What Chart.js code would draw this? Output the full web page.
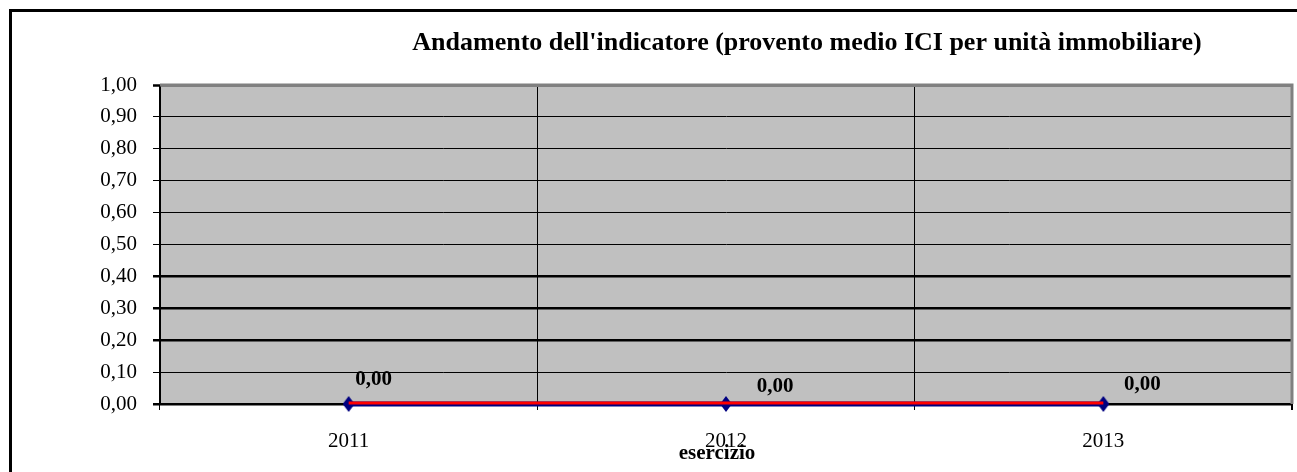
<!DOCTYPE html>
<html>
<head>
<meta charset="utf-8">
<title>Andamento dell'indicatore</title>
<script src="https://cdn.jsdelivr.net/npm/chart.js@4.4.1/dist/chart.umd.min.js"></script>
<style>
  html, body { margin: 0; padding: 0; background: #ffffff; overflow: hidden; }
  canvas { display: block; }
</style>
</head>
<body>
<canvas id="chart" width="1297" height="472"></canvas>
<script>
// Data
const esercizi = ['2011', '2012', '2013'];
const proventoMedio = [0.00, 0.00, 0.00];
const yMin = 0;
const yMax = 1;
const yStep = 0.1;

const titleText = "Andamento dell'indicatore (provento medio ICI per unità immobiliare)";
const xAxisTitle = 'esercizio';

const SERIF = "'Liberation Serif', 'Times New Roman', Times, serif";
const fmt = v => v.toFixed(2).replace('.', ',');

// Gridlines drawn heavier than the rest (in tenths)
const heavyLines = [0, 2, 3, 4];
const tenth = c => Math.round(c.tick.value * 10);

// Navy diamond marker, slightly taller than wide
function diamond(w, h, color) {
  const c = document.createElement('canvas');
  c.width = w; c.height = h;
  const g = c.getContext('2d');
  g.fillStyle = color;
  g.beginPath();
  g.moveTo(w / 2, 0);
  g.lineTo(w, h / 2);
  g.lineTo(w / 2, h);
  g.lineTo(0, h / 2);
  g.closePath();
  g.fill();
  return c;
}
const marker = diamond(12, 16, '#000080');

const decorations = {
  id: 'decorations',
  beforeDraw(chart) {
    const { ctx, chartArea: a } = chart;
    ctx.save();
    ctx.fillStyle = '#ffffff';
    ctx.fillRect(0, 0, chart.width, chart.height);
    // outer frame
    ctx.strokeStyle = '#000000';
    ctx.lineWidth = 3;
    ctx.strokeRect(10.5, 10.5, 1400, 600);
    // plot background
    ctx.fillStyle = '#c0c0c0';
    ctx.fillRect(a.left, a.top, a.right - a.left, a.bottom - a.top);
    ctx.restore();
  },
  beforeDatasetsDraw(chart) {
    const { ctx, chartArea: a } = chart;
    ctx.save();
    ctx.strokeStyle = '#808080';
    ctx.lineWidth = 3;
    ctx.beginPath();
    ctx.moveTo(a.left, a.top);
    ctx.lineTo(a.right, a.top);
    ctx.lineTo(a.right, a.bottom);
    ctx.stroke();
    // small tick below the right edge of the plot
    ctx.strokeStyle = '#000000';
    ctx.lineWidth = 2;
    ctx.beginPath();
    ctx.moveTo(a.right, a.bottom);
    ctx.lineTo(a.right, a.bottom + 6);
    ctx.stroke();
    ctx.restore();
  },
  beforeDatasetDraw(chart, args) {
    if (args.index === 0) {
      chart.ctx.save();
      chart.ctx.translate(0, -1);
    }
  },
  afterDatasetDraw(chart, args) {
    if (args.index === 0) chart.ctx.restore();
  },
  afterDatasetsDraw(chart, args, opts) {
    const { ctx } = chart;
    const meta = chart.getDatasetMeta(1);
    ctx.save();
    ctx.fillStyle = '#000000';
    ctx.font = 'bold 21px ' + SERIF;
    ctx.textAlign = 'center';
    ctx.textBaseline = 'middle';
    meta.data.forEach((pt, i) => {
      const off = opts.labelOffsets[i] || { dx: 35, dy: -20 };
      ctx.fillText(fmt(chart.data.datasets[1].data[i]), pt.x + off.dx, pt.y + off.dy);
    });
    // chart title
    ctx.font = 'bold 26px ' + SERIF;
    ctx.textBaseline = 'alphabetic';
    ctx.fillText(titleText, 807, 50);
    // category axis title
    ctx.font = 'bold 21px ' + SERIF;
    ctx.fillText(xAxisTitle, 717, 459);
    ctx.restore();
  }
};

new Chart(document.getElementById('chart'), {
  type: 'line',
  data: {
    labels: esercizi,
    datasets: [
      {
        label: 'provento medio (linea)',
        data: proventoMedio,
        borderColor: '#ff0000',
        borderWidth: 3,
        pointRadius: 0,
        fill: false,
        tension: 0,
        clip: false
      },
      {
        label: 'provento medio',
        data: proventoMedio,
        borderColor: '#000080',
        borderWidth: 5,
        pointStyle: marker,
        pointRadius: 8,
        fill: false,
        tension: 0,
        clip: false
      }
    ]
  },
  options: {
    responsive: false,
    devicePixelRatio: 1,
    animation: false,
    events: [],
    layout: { autoPadding: false, padding: { left: 0, top: 85, right: 5, bottom: 0 } },
    plugins: {
      legend: { display: false },
      title: { display: false },
      tooltip: { enabled: false },
      decorations: {
        labelOffsets: [ { dx: 25, dy: -24 }, { dx: 49, dy: -17 }, { dx: 39, dy: -19 } ]
      }
    },
    scales: {
      x: {
        offset: true,
        grid: {
          offset: true,
          color: '#000000',
          lineWidth: 1,
          tickLength: 6,
          drawOnChartArea: true
        },
        border: { display: true, color: '#000000', width: 2 },
        ticks: {
          color: '#000000',
          font: { family: SERIF, size: 21 },
          padding: 19,
          maxRotation: 0
        },
        afterFit(scale) {
          scale.height = 68;
          scale.paddingLeft = 0;
          scale.paddingRight = 0;
        }
      },
      y: {
        min: yMin,
        max: yMax,
        grid: {
          color: c => (tenth(c) === 10 ? '#808080' : '#000000'),
          lineWidth: c => (heavyLines.includes(tenth(c)) ? 2.5 : (tenth(c) === 10 ? 3 : 1)),
          tickColor: '#000000',
          tickWidth: c => (heavyLines.includes(tenth(c)) || tenth(c) === 10 ? 2.5 : 1),
          tickLength: 7
        },
        border: { display: true, color: '#000000', width: 1 },
        ticks: {
          stepSize: yStep,
          color: '#000000',
          font: { family: SERIF, size: 21 },
          padding: 16,
          callback: v => fmt(v)
        },
        afterFit(scale) { scale.width = 160; }
      }
    }
  },
  plugins: [decorations]
});
</script>
</body>
</html>
